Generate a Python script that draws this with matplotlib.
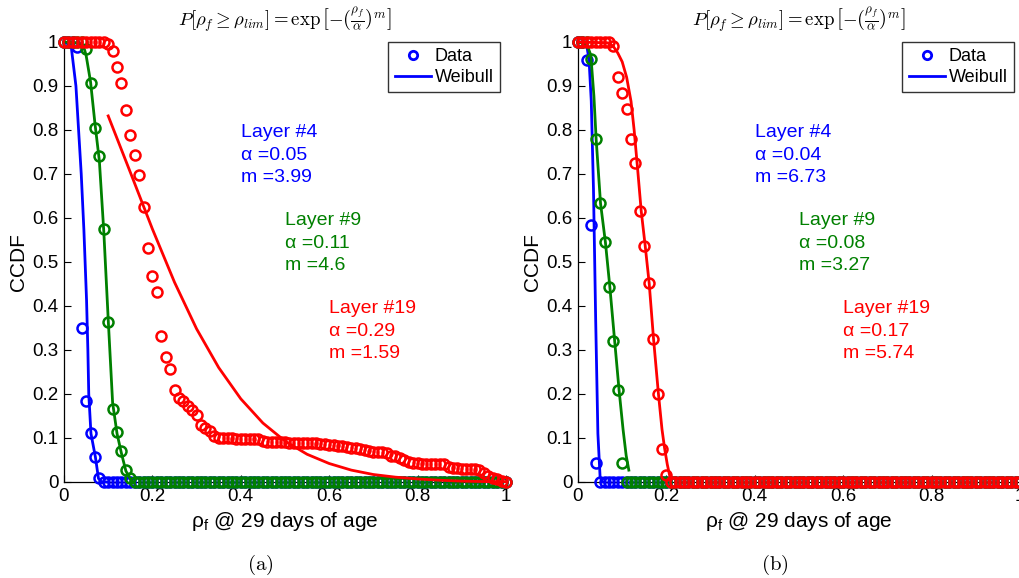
import numpy as np
import matplotlib
matplotlib.use("Agg")
import matplotlib.pyplot as plt
from matplotlib.lines import Line2D

plt.rcParams['font.family'] = ['Liberation Sans', 'DejaVu Sans']
plt.rcParams['mathtext.fontset'] = 'custom'
plt.rcParams['mathtext.rm'] = 'Liberation Sans'
plt.rcParams['mathtext.it'] = 'Liberation Sans:italic'

# ---------------- data ----------------
rho = [i / 100 for i in range(101)]

# panel (a)
a_blue = [1, 1, 1, 0.989, 0.351, 0.183, 0.111, 0.057, 0.008] + [0] * 92
a_green = [1, 1, 1, 1, 1, 0.984, 0.906, 0.805, 0.741, 0.575, 0.363, 0.167,
           0.114, 0.071, 0.027, 0.008] + [0] * 85
a_red = ([1] * 10 +
         [0.995, 0.979, 0.944, 0.906, 0.845, 0.788, 0.744, 0.697, 0.624, 0.532,
          0.468, 0.432, 0.332, 0.284, 0.256, 0.209, 0.191, 0.185, 0.172, 0.163,
          0.152, 0.130, 0.123, 0.115, 0.104, 0.101] +
         [0.100, 0.099, 0.099, 0.098, 0.098, 0.098, 0.098, 0.097, 0.097] +
         [0.093, 0.091, 0.090, 0.090, 0.090, 0.090, 0.089, 0.089, 0.089, 0.089,
          0.088, 0.088, 0.088, 0.087, 0.086, 0.085] +
         [0.083, 0.082, 0.081, 0.080, 0.078, 0.077, 0.075, 0.072] +
         [0.070, 0.069, 0.069, 0.068, 0.066] +
         [0.060, 0.058, 0.054, 0.051] +
         [0.046, 0.043, 0.043, 0.042, 0.042, 0.042, 0.042, 0.042, 0.040] +
         [0.033, 0.032, 0.031, 0.030, 0.030, 0.030, 0.029, 0.028] +
         [0.020, 0.013, 0.010, 0.006, 0.002, 0.0])

a_blue_fit_x = [0.0, 0.016, 0.027, 0.033, 0.039, 0.045, 0.051, 0.054, 0.056, 0.061, 0.071, 0.078, 0.085, 0.10]
a_blue_fit_y = [1.0, 0.992, 0.9, 0.8, 0.7, 0.573, 0.414, 0.3, 0.2, 0.11, 0.057, 0.008, 0.0, 0.0]
a_green_fit_x = [0.0, 0.03, 0.039, 0.046, 0.05, 0.06, 0.07, 0.08, 0.09, 0.10, 0.11, 0.12, 0.13, 0.14, 0.15, 0.156]
a_green_fit_y = [1.0, 0.998, 0.992, 0.984, 0.97, 0.91, 0.815, 0.73, 0.57, 0.37, 0.18, 0.11, 0.065, 0.025, 0.007, 0.0]
a_red_fit_x = [0.10, 0.15, 0.20, 0.25, 0.30, 0.35, 0.40, 0.45, 0.50, 0.55, 0.60, 0.65, 0.70, 0.75, 0.80, 0.85, 0.90, 0.95, 1.00]
a_red_fit_y = [0.832, 0.704, 0.575, 0.454, 0.348, 0.260, 0.189, 0.134, 0.093, 0.063, 0.042, 0.027, 0.017, 0.011, 0.007, 0.004, 0.002, 0.001, 0.001]

# panel (b)
b_blue = [1, 1, 0.958, 0.585, 0.043] + [0] * 96
b_green = [1, 1, 1, 0.961, 0.780, 0.633, 0.545, 0.444, 0.320, 0.208, 0.044] + [0] * 90
b_red = ([1] * 8 +
         [0.992, 0.920, 0.885, 0.848, 0.780, 0.725, 0.616, 0.537, 0.452, 0.324,
          0.200, 0.076, 0.017] + [0] * 80)

b_blue_fit_x = [0.0, 0.015, 0.02, 0.025, 0.03, 0.035, 0.04, 0.045, 0.05, 0.055, 0.06]
b_blue_fit_y = [1.0, 0.999, 0.991, 0.959, 0.866, 0.666, 0.368, 0.110, 0.011, 0.0, 0.0]
b_green_fit_x = [0.0, 0.02, 0.029, 0.036, 0.041, 0.051, 0.062, 0.072, 0.083, 0.093, 0.102, 0.109, 0.115]
b_green_fit_y = [1.0, 0.995, 0.97, 0.877, 0.78, 0.633, 0.545, 0.444, 0.320, 0.208, 0.119, 0.06, 0.027]
b_red_fit_x = [0.0, 0.07, 0.08, 0.09, 0.10, 0.11, 0.12, 0.127, 0.135, 0.143, 0.152, 0.161, 0.171, 0.182, 0.19, 0.196, 0.202, 0.208]
b_red_fit_y = [1.0, 0.998, 0.99, 0.975, 0.955, 0.92, 0.865, 0.80, 0.71, 0.616, 0.537, 0.452, 0.324, 0.20, 0.12, 0.076, 0.04, 0.012]

layer_names = ["Layer #4", "Layer #9", "Layer #19"]
a_alpha = ["0.05", "0.11", "0.29"]
a_m = ["3.99", "4.6", "1.59"]
b_alpha = ["0.04", "0.08", "0.17"]
b_m = ["6.73", "3.27", "5.74"]

xticks = [0, 0.2, 0.4, 0.6, 0.8, 1]
xtick_labels = ["0", "0.2", "0.4", "0.6", "0.8", "1"]
yticks = [i / 10 for i in range(11)]
ytick_labels = ["0", "0.1", "0.2", "0.3", "0.4", "0.5", "0.6", "0.7", "0.8", "0.9", "1"]

colors = ["#0000ff", "#008000", "#ff0000"]
title_tex = r"$P[\rho_f \geq \rho_{lim}] = \exp\left[-\left(\frac{\rho_f}{\alpha}\right)^m\right]$"

# ---------------- figure ----------------
fig = plt.figure(figsize=(10.2, 5.78), dpi=100)
W, H = 1020, 578


def make_axes(x0px):
    return fig.add_axes([x0px / W, (H - 482) / H, 442 / W, 440 / H])


def draw_panel(ax, datas, fits, alphas, ms, caption, cap_x):
    for d, (fx, fy), c in zip(datas, fits, colors):
        ax.plot(rho, d, 'o', mfc='none', mec=c, ms=7.2, mew=1.8, clip_on=False, zorder=3)
        ax.plot(fx, fy, '-', color=c, lw=2.0, clip_on=False, zorder=3)
    ax.set_xlim(0, 1)
    ax.set_ylim(0, 1)
    ax.set_xticks(xticks)
    ax.set_xticklabels(xtick_labels)
    ax.set_yticks(yticks)
    ax.set_yticklabels(ytick_labels)
    ax.tick_params(direction='in', length=5, width=0.8, labelsize=13.5, pad=4)
    for s in ['top', 'right']:
        ax.spines[s].set_visible(False)
    for s in ['left', 'bottom']:
        ax.spines[s].set_linewidth(0.9)
    ax.set_ylabel("CCDF", fontsize=15, labelpad=3)
    ax.set_xlabel(r"ρ$_{\mathrm{f}}$ @ 29 days of age", fontsize=15, labelpad=4)
    ax.set_title(title_tex, fontsize=13.5, math_fontfamily='cm', pad=11)
    pos = [(0.4, 0.8), (0.5, 0.6), (0.6, 0.4)]
    dy = 22.5 / 440
    for (tx, ty), name, a, m, c in zip(pos, layer_names, alphas, ms, colors):
        for k, s in enumerate([name, f"α ={a}", f"m ={m}"]):
            ax.text(tx, ty - 0.006 - k * dy, s, color=c, fontsize=14,
                    ha='left', va='center')
    handles = [Line2D([], [], ls='none', marker='o', mfc='none', mec='#0000ff', ms=6, mew=2),
               Line2D([], [], ls='-', color='#0000ff', lw=2)]
    leg = ax.legend(handles, ["Data", "Weibull"], loc='upper right',
                    bbox_to_anchor=(0.986, 1.0), fontsize=13, frameon=True,
                    fancybox=False, edgecolor='black', borderpad=0.35,
                    handlelength=2.0, handletextpad=0.2, labelspacing=0.2,
                    borderaxespad=0.0)
    leg.get_frame().set_linewidth(1.0)
    fig.text(cap_x / W, 1 - 565 / H, caption, fontsize=15, ha='center', va='center',
             math_fontfamily='cm')


axa = make_axes(64)
draw_panel(axa, [a_blue, a_green, a_red],
           [(a_blue_fit_x, a_blue_fit_y), (a_green_fit_x, a_green_fit_y), (a_red_fit_x, a_red_fit_y)],
           a_alpha, a_m, r"$\mathrm{(a)}$", 260)
axb = make_axes(578)
draw_panel(axb, [b_blue, b_green, b_red],
           [(b_blue_fit_x, b_blue_fit_y), (b_green_fit_x, b_green_fit_y), (b_red_fit_x, b_red_fit_y)],
           b_alpha, b_m, r"$\mathrm{(b)}$", 775)

fig.savefig("out.png", dpi=100)
